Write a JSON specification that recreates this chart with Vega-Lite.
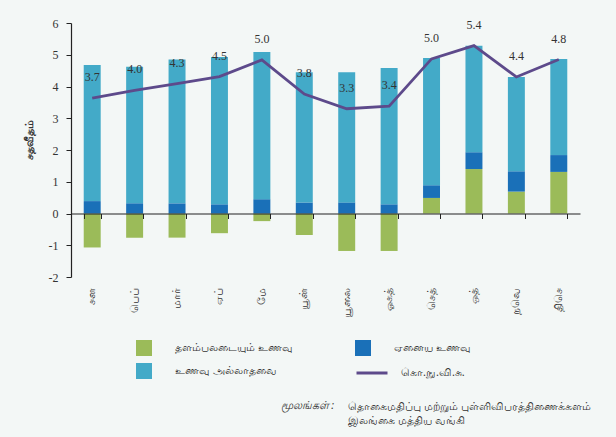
{
  "$schema": "https://vega.github.io/schema/vega-lite/v6.json",
  "width": 509,
  "height": 254,
  "autosize": {"type": "none"},
  "padding": {"left": 71, "top": 23, "right": 36, "bottom": 160},
  "background": "#f3f7f6",
  "config": {
    "view": {"stroke": null},
    "font": "Noto Sans",
    "axis": {"domainColor": "#222222", "tickColor": "#222222", "grid": false, "labelColor": "#333333", "titleColor": "#333333"},
    "legend": {"labelColor": "#333333", "labelFontSize": 11, "padding": 0}
  },
  "datasets": {
    "bars": [
      {"m": "சன", "cat": "தளம்பலடையும் உணவு", "v": -1.07},
      {"m": "சன", "cat": "ஏனைய உணவு", "v": 0.39},
      {"m": "சன", "cat": "உணவு அல்லாதவை", "v": 4.29},
      {"m": "பெப்", "cat": "தளம்பலடையும் உணவு", "v": -0.76},
      {"m": "பெப்", "cat": "ஏனைய உணவு", "v": 0.32},
      {"m": "பெப்", "cat": "உணவு அல்லாதவை", "v": 4.30},
      {"m": "மார்", "cat": "தளம்பலடையும் உணவு", "v": -0.76},
      {"m": "மார்", "cat": "ஏனைய உணவு", "v": 0.32},
      {"m": "மார்", "cat": "உணவு அல்லாதவை", "v": 4.53},
      {"m": "ஏப்", "cat": "தளம்பலடையும் உணவு", "v": -0.62},
      {"m": "ஏப்", "cat": "ஏனைய உணவு", "v": 0.29},
      {"m": "ஏப்", "cat": "உணவு அல்லாதவை", "v": 4.64},
      {"m": "மே", "cat": "தளம்பலடையும் உணவு", "v": -0.24},
      {"m": "மே", "cat": "ஏனைய உணவு", "v": 0.45},
      {"m": "மே", "cat": "உணவு அல்லாதவை", "v": 4.64},
      {"m": "யூன்", "cat": "தளம்பலடையும் உணவு", "v": -0.68},
      {"m": "யூன்", "cat": "ஏனைய உணவு", "v": 0.35},
      {"m": "யூன்", "cat": "உணவு அல்லாதவை", "v": 4.10},
      {"m": "யூலை", "cat": "தளம்பலடையும் உணவு", "v": -1.18},
      {"m": "யூலை", "cat": "ஏனைய உணவு", "v": 0.35},
      {"m": "யூலை", "cat": "உணவு அல்லாதவை", "v": 4.10},
      {"m": "ஓகத்", "cat": "தளம்பலடையும் உணவு", "v": -1.18},
      {"m": "ஓகத்", "cat": "ஏனைய உணவு", "v": 0.29},
      {"m": "ஓகத்", "cat": "உணவு அல்லாதவை", "v": 4.29},
      {"m": "செத்", "cat": "தளம்பலடையும் உணவு", "v": 0.49},
      {"m": "செத்", "cat": "ஏனைய உணவு", "v": 0.40},
      {"m": "செத்", "cat": "உணவு அல்லாதவை", "v": 4.01},
      {"m": "ஒத்", "cat": "தளம்பலடையும் உணவு", "v": 1.40},
      {"m": "ஒத்", "cat": "ஏனைய உணவு", "v": 0.53},
      {"m": "ஒத்", "cat": "உணவு அல்லாதவை", "v": 3.35},
      {"m": "நவெ", "cat": "தளம்பலடையும் உணவு", "v": 0.69},
      {"m": "நவெ", "cat": "ஏனைய உணவு", "v": 0.64},
      {"m": "நவெ", "cat": "உணவு அல்லாதவை", "v": 2.97},
      {"m": "திசெ", "cat": "தளம்பலடையும் உணவு", "v": 1.31},
      {"m": "திசெ", "cat": "ஏனைய உணவு", "v": 0.53},
      {"m": "திசெ", "cat": "உணவு அல்லாதவை", "v": 3.03}
    ],
    "ccpi": [
      {"m": "சன", "v": 3.63, "label": 3.7},
      {"m": "பெப்", "v": 3.88, "label": 4.0},
      {"m": "மார்", "v": 4.09, "label": 4.3},
      {"m": "ஏப்", "v": 4.31, "label": 4.5},
      {"m": "மே", "v": 4.84, "label": 5.0},
      {"m": "யூன்", "v": 3.76, "label": 3.8},
      {"m": "யூலை", "v": 3.30, "label": 3.3},
      {"m": "ஓகத்", "v": 3.38, "label": 3.4},
      {"m": "செத்", "v": 4.87, "label": 5.0},
      {"m": "ஒத்", "v": 5.29, "label": 5.4},
      {"m": "நவெ", "v": 4.30, "label": 4.4},
      {"m": "திசெ", "v": 4.85, "label": 4.8}
    ]
  },
  "title": {
    "text": ["தொகைமதிப்பு மற்றும் புள்ளிவிபரத்திணைக்களம்", "இலங்கை மத்திய வங்கி"],
    "orient": "bottom",
    "anchor": "start",
    "frame": "group",
    "dx": 277,
    "offset": -9,
    "fontSize": 11,
    "fontWeight": "normal",
    "color": "#333333",
    "lineHeight": 14
  },
  "encoding": {
    "y": {
      "field": "v", "type": "quantitative",
      "scale": {"domain": [-2, 6], "nice": false},
      "axis": {"values": [-2, -1, 0, 1, 2, 3, 4, 5, 6], "labelOverlap": false, "labelExpr": "datum.value < 0 ? '-' + abs(datum.value) : '' + datum.value", "title": "சதவீதம்", "titleFontSize": 11, "titleFontWeight": "bold", "titlePadding": 14, "titleY": 116, "labelFont": "Liberation Serif", "labelFontSize": 12, "tickSize": 5, "labelPadding": 8, "domainWidth": 1.2}
    }
  },
  "layer": [
    {
      "data": {"name": "bars"},
      "mark": {"type": "bar"},
      "encoding": {
        "x": {
          "field": "m", "type": "nominal",
          "scale": {"domain": ["சன", "பெப்", "மார்", "ஏப்", "மே", "யூன்", "யூலை", "ஓகத்", "செத்", "ஒத்", "நவெ", "திசெ"], "paddingInner": 0.6, "paddingOuter": 0.3},
          "axis": {"orient": "bottom", "labels": false, "title": null, "offset": -63.5, "tickBand": "extent", "tickSize": 5, "domainWidth": 1.2, "zindex": 1}
        },
        "color": {
          "field": "cat", "type": "nominal",
          "sort": ["தளம்பலடையும் உணவு", "ஏனைய உணவு", "உணவு அல்லாதவை"],
          "scale": {"domain": ["தளம்பலடையும் உணவு", "ஏனைய உணவு", "உணவு அல்லாதவை"], "range": ["#9bbb59", "#1a70b8", "#43aac8"]},
          "legend": {"orient": "none", "direction": "horizontal", "legendX": 65, "legendY": 317, "columns": 2, "title": null, "symbolType": "square", "symbolSize": 256, "symbolStrokeWidth": 0, "labelOffset": 23, "columnPadding": 62, "rowPadding": 7}
        }
      }
    },
    {
      "data": {"name": "ccpi"},
      "mark": {"type": "line", "strokeWidth": 2.8},
      "encoding": {
        "x": {
          "field": "m", "type": "nominal",
          "axis": {"orient": "bottom", "domain": false, "ticks": false, "labelAngle": -90, "labelPadding": 10, "labelFontSize": 11, "title": "மூலங்கள் :", "titleFontStyle": "italic", "titleFontWeight": "normal", "titleFontSize": 11, "titleAlign": "left", "titleBaseline": "middle", "titleX": 209, "titleY": 128}
        },
        "stroke": {
          "datum": "கொ.நு.வி.சு.",
          "scale": {"range": ["#5d4a8b"]},
          "legend": {"orient": "none", "legendX": 284, "legendY": 333, "title": null, "symbolType": "stroke", "symbolSize": 961, "symbolStrokeWidth": 3, "labelOffset": 12}
        }
      }
    },
    {
      "data": {"name": "ccpi"},
      "mark": {"type": "text", "dy": -21, "font": "Liberation Serif", "fontSize": 12, "color": "#333333"},
      "encoding": {
        "x": {"field": "m", "type": "nominal", "axis": null},
        "text": {"field": "label", "type": "quantitative", "format": ".1f"}
      }
    }
  ],
  "resolve": {"axis": {"x": "independent"}}
}
